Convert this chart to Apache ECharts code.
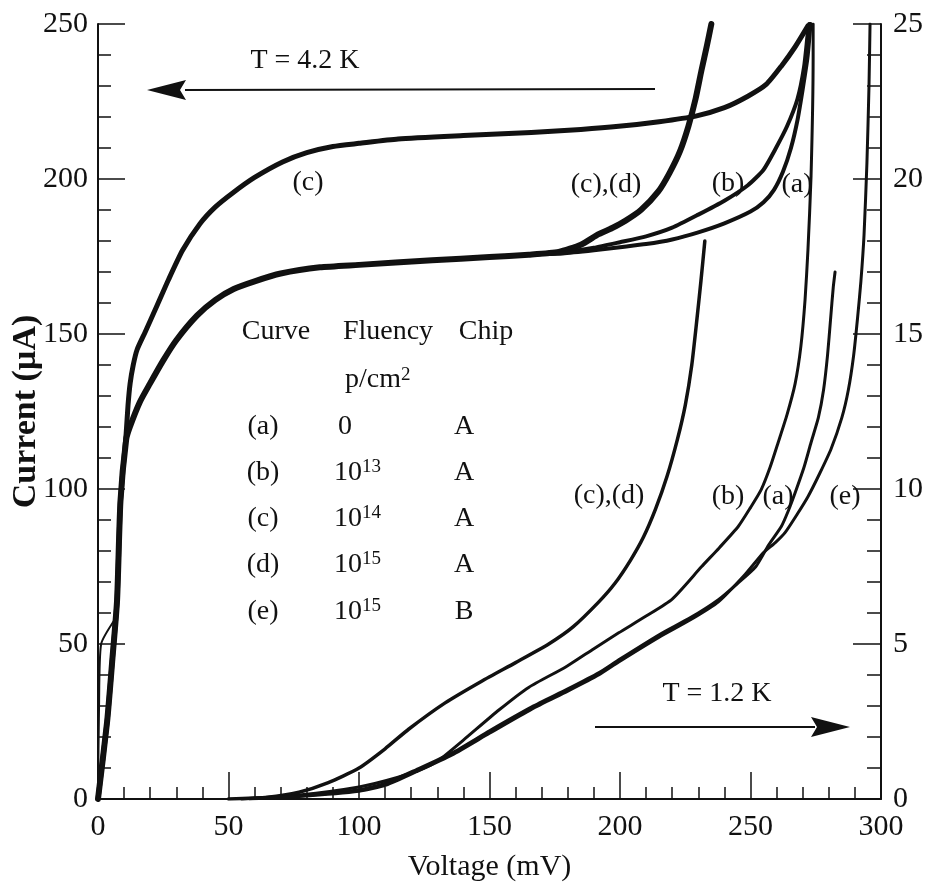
<!DOCTYPE html>
<html>
<head>
<meta charset="utf-8">
<title>Current vs Voltage</title>
<script src="https://cdn.jsdelivr.net/npm/echarts@6.0.0/dist/echarts.min.js"></script>
<style>
  html, body { margin: 0; padding: 0; background: #fff; }
  #chart { width: 930px; height: 888px; }
</style>
</head>
<body>
<div id="chart"></div>
<script>
// axis ticks
const xTicks = [0, 50, 100, 150, 200, 250, 300]
const yLeftTicks = [0, 50, 100, 150, 200, 250]
const yRightTicks = [0, 5, 10, 15, 20, 25]

// T = 4.2 K curves (left axis, uA) : [mV, uA]
const riseCommon42 = [[0, 0], [3.5, 25], [5.5, 45], [7.3, 64], [8.6, 96], [10.8, 116], [12.2, 120]]
const upperC42 = [[0, 0], [3.5, 25], [5.5, 45], [7.3, 64], [8.6, 96], [10.8, 118], [11.5, 127], [12.3, 134],
  [13.5, 140], [15, 145], [18, 150.5], [22.8, 159.5], [27, 167.5], [32.4, 177], [39, 185.5], [45, 191],
  [51.6, 195.5], [60, 200.5], [70.7, 205.5], [80, 208.5], [90, 210.5], [100, 211.5], [115, 212.9], [140, 214],
  [166, 215], [185, 216], [199.5, 217], [215, 218.5], [229, 220.3], [240, 223], [249, 226.7], [256, 230.5],
  [261.8, 236.4], [267, 242.5], [272, 249.4]]
const lowerCommon42 = [[16, 128], [19.9, 134], [25, 141.5], [30, 148], [38, 156], [45, 161], [52, 164.5],
  [60, 167], [70, 169.5], [85, 171.5], [100, 172.3], [128, 173.8], [150, 174.8], [165, 175.6]]
const lowerCD42 = [[176.5, 176.5], [185, 178.8], [191.8, 182.2], [197, 184.2], [202, 186.5], [208, 190],
  [214.7, 196], [219, 202], [223, 209], [226.2, 217], [229, 226], [231.2, 235], [233.3, 243], [235, 250]]
const lowerB42 = [[178, 176.3], [190, 177.8], [200, 179.6], [210, 181.5], [220, 184.3], [230, 188.5],
  [240, 193], [249, 198], [255, 203], [259.5, 209.6], [264, 217], [268, 225.8], [270.5, 236], [272, 247.4],
  [272.5, 250]]
const lowerA42 = [[178, 176], [190, 177], [200, 178], [210, 179], [220, 180.5], [230, 182.8], [240, 185.7],
  [250, 189.5], [255, 192.5], [259, 196.5], [262.5, 202.5], [265.5, 210], [268, 219], [270, 229],
  [271.8, 239], [273, 250]]
const originLoop42 = [[0, 0], [0.4, 30], [1.2, 50], [6.5, 58]]

// T = 1.2 K curves (right axis) : [mV, value]
const curveCD12 = [[50, 0], [65, 0.06], [77, 0.22], [88, 0.52], [100, 1.0], [110, 1.62], [119, 2.25],
  [133, 3.1], [147, 3.8], [160, 4.4], [172.7, 5.0], [182, 5.55], [191.8, 6.35], [198, 6.95], [204, 7.7],
  [209, 8.45], [213.6, 9.35], [218, 10.4], [222, 11.6], [225, 12.7], [227.5, 14.0], [229.5, 15.5],
  [231, 16.7], [232.5, 18.0]]
const curveB12 = [[55, 0], [77, 0.13], [100, 0.39], [115, 0.7], [125, 1.0], [130.7, 1.26], [140, 1.9],
  [153.6, 2.87], [165, 3.6], [179.2, 4.26], [190, 4.85], [199.5, 5.36], [210, 5.9], [220, 6.45], [231.2, 7.49],
  [238, 8.1], [245.3, 8.79], [250, 9.4], [254.1, 9.98], [257.5, 10.7], [260.6, 11.5], [264, 12.4], [267.1, 13.4],
  [269.3, 14.6], [270.9, 16.1], [272, 17.7], [273.2, 20.1], [274, 23.9], [274, 25]]
const curveA12 = [[55, 0], [77, 0.1], [100, 0.3], [110.4, 0.52], [122, 0.95], [135.7, 1.49], [150, 2.2],
  [166.2, 2.97], [180, 3.55], [191.8, 4.07], [199.5, 4.49], [215, 5.3], [227, 5.85], [237.7, 6.43], [245, 6.95],
  [252, 7.49], [257, 8.2], [261.8, 8.79], [264.5, 9.3], [267.1, 9.88], [270.5, 10.7], [273.2, 11.5], [276, 12.3],
  [278, 13.2], [279.5, 14.3], [280.7, 15.5], [281.7, 16.5], [282.4, 17.0]]
const curveE12 = [[58, 0], [77, 0.08], [100, 0.25], [110.4, 0.45], [122, 0.88], [135.7, 1.42], [150, 2.12],
  [166.2, 2.9], [180, 3.48], [191.8, 4.0], [199.5, 4.42], [215, 5.22], [227, 5.78], [237.7, 6.36], [248, 7.25],
  [255, 7.95], [259.5, 8.27], [263.3, 8.6], [268, 9.2], [272, 9.75], [276.5, 10.5], [280.9, 11.3], [285, 12.3],
  [287.5, 13.2], [289.5, 14.3], [291, 15.5], [292.3, 16.7], [293.5, 18.2], [294.6, 20.5], [295.4, 23],
  [295.8, 25]]

// legend table
const tableHeader = ['Curve', 'Fluency', 'Chip']
const tableCurves = ['(a)', '(b)', '(c)', '(d)', '(e)']
const tableFluency = ['0', '13', '14', '15', '15']
const tableChip = ['A', 'A', 'A', 'A', 'B']

const serif = "'Liberation Serif', 'Times New Roman', serif"
const ink = '#111'

const line = (name, data, axis, width) => ({
  name: name,
  type: 'line',
  yAxisIndex: axis,
  data: data,
  showSymbol: false,
  smooth: 0.2,
  lineStyle: { color: ink, width: width, cap: 'round', join: 'round' },
  z: 3
})

const txt = (x, y, s, extra) => ({
  type: 'text', x: x, y: y, z: 10,
  style: Object.assign({ text: s, fill: ink, font: '28px ' + serif, align: 'center', verticalAlign: 'middle' }, extra || {})
})

const graphics = [
  txt(305, 61, 'T = 4.2 K'),
  { type: 'line', z: 10, shape: { x1: 185, y1: 90, x2: 655, y2: 89 }, style: { stroke: ink, lineWidth: 2 } },
  { type: 'polygon', z: 10, shape: { points: [[147, 90], [186, 80], [180, 90], [186, 100]] }, style: { fill: ink } },
  txt(717, 694, 'T = 1.2 K'),
  { type: 'line', z: 10, shape: { x1: 595, y1: 727, x2: 815, y2: 727 }, style: { stroke: ink, lineWidth: 2 } },
  { type: 'polygon', z: 10, shape: { points: [[850, 727], [811, 717], [817, 727], [811, 737]] }, style: { fill: ink } },
  // curve labels, 4.2 K
  txt(308, 183, '(c)'), txt(606, 185, '(c),(d)'), txt(728, 184, '(b)'), txt(797, 185, '(a)'),
  // curve labels, 1.2 K
  txt(609, 496, '(c),(d)'), txt(728, 497, '(b)'), txt(778, 497, '(a)'), txt(845, 497, '(e)'),
  // table header
  txt(276, 332, tableHeader[0]), txt(388, 332, tableHeader[1]), txt(486, 332, tableHeader[2]),
  {
    type: 'text', x: 345, y: 380, z: 10,
    style: {
      text: '{b|p/cm}{s|2}', verticalAlign: 'middle',
      rich: { b: { font: '28px ' + serif, fill: ink }, s: { font: '19px ' + serif, fill: ink, padding: [0, 0, 10, 0] } }
    }
  }
]
const rowY = [427, 473, 519, 565, 612]
tableCurves.forEach((c, i) => {
  graphics.push(txt(263, rowY[i], c))
  if (tableFluency[i] === '0') {
    graphics.push(txt(338, rowY[i], '0', { align: 'left' }))
  } else {
    graphics.push({
      type: 'text', x: 334, y: rowY[i], z: 10,
      style: {
        text: '{b|10}{s|' + tableFluency[i] + '}', verticalAlign: 'middle',
        rich: { b: { font: '28px ' + serif, fill: ink }, s: { font: '19px ' + serif, fill: ink, padding: [0, 0, 12, 0] } }
      }
    })
  }
  graphics.push(txt(464, rowY[i], tableChip[i]))
})

const chart = echarts.init(document.getElementById('chart'), null, { renderer: 'canvas' })

const option = {
  backgroundColor: '#fff',
  animation: false,
  grid: { left: 98, right: 49, top: 24, bottom: 89, outerBoundsMode: 'none' },
  xAxis: {
    type: 'value', min: xTicks[0], max: xTicks[xTicks.length - 1], interval: 50,
    name: 'Voltage (mV)', nameLocation: 'middle', nameGap: 53, nameMoveOverlap: false,
    nameTextStyle: { fontFamily: serif, fontSize: 30, color: ink },
    axisLine: { onZero: false, lineStyle: { color: ink, width: 2 } },
    axisTick: { inside: true, length: 27, lineStyle: { color: ink, width: 1.5 } },
    minorTick: { show: true, splitNumber: 5, length: 12, lineStyle: { color: ink, width: 1.5 } },
    axisLabel: { fontFamily: serif, fontSize: 30, color: ink, margin: 13 },
    splitLine: { show: false }
  },
  yAxis: [
    {
      type: 'value', min: yLeftTicks[0], max: yLeftTicks[yLeftTicks.length - 1], interval: 50,
      name: 'Current (\u00b5A)', nameLocation: 'middle', nameGap: 55, nameRotate: 90, nameMoveOverlap: false,
      nameTextStyle: { fontFamily: serif, fontSize: 34, fontWeight: 'bold', color: ink },
      axisLine: { show: true, lineStyle: { color: ink, width: 2 } },
      axisTick: { inside: true, length: 27, lineStyle: { color: ink, width: 1.5 } },
      minorTick: { show: true, splitNumber: 5, length: 13, lineStyle: { color: ink, width: 1.5 } },
      axisLabel: { fontFamily: serif, fontSize: 30, color: ink, margin: 10 },
      splitLine: { show: false }
    },
    {
      type: 'value', position: 'right', min: yRightTicks[0], max: yRightTicks[yRightTicks.length - 1], interval: 5,
      axisLine: { show: true, lineStyle: { color: ink, width: 2 } },
      axisTick: { inside: true, length: 28, lineStyle: { color: ink, width: 1.5 } },
      minorTick: { show: true, splitNumber: 5, length: 14, lineStyle: { color: ink, width: 1.5 } },
      axisLabel: { fontFamily: serif, fontSize: 30, color: ink, margin: 12 },
      splitLine: { show: false }
    }
  ],
  series: [
    line('4.2K (c) upper', upperC42, 0, 5),
    line('4.2K (c),(d)', riseCommon42.concat(lowerCommon42, lowerCD42), 0, 6),
    line('4.2K (b)', riseCommon42.concat(lowerCommon42, lowerB42), 0, 4),
    line('4.2K (a)', riseCommon42.concat(lowerCommon42, lowerA42), 0, 4),
    line('4.2K origin', originLoop42, 0, 2),
    line('1.2K (c),(d)', curveCD12, 1, 3.5),
    line('1.2K (b)', curveB12, 1, 3),
    line('1.2K (a)', curveA12, 1, 3),
    line('1.2K (e)', curveE12, 1, 3)
  ],
  graphic: graphics
}

chart.setOption(option)
window.addEventListener('resize', chart.resize)
</script>
</body>
</html>
